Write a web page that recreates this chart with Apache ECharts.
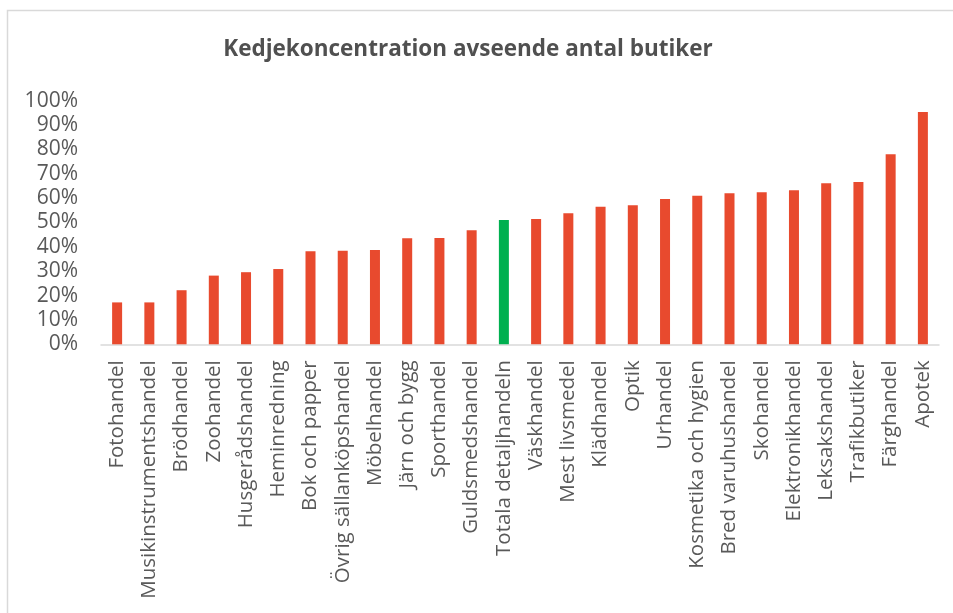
<!DOCTYPE html>
<html>
<head>
<meta charset="utf-8">
<script src="https://cdn.jsdelivr.net/npm/echarts@6/dist/echarts.min.js"></script>
<style>
  html, body {margin: 0; padding: 0; background: #fff;}
  #chart {width: 953px; height: 613px;}
</style>
</head>
<body>
<div id="chart"></div>
<script>
const categories = [
  'Fotohandel', 'Musikinstrumentshandel', 'Brödhandel', 'Zoohandel', 'Husgerådshandel',
  'Heminredning', 'Bok och papper', 'Övrig sällanköpshandel', 'Möbelhandel', 'Järn och bygg',
  'Sporthandel', 'Guldsmedshandel', 'Totala detaljhandeln', 'Väskhandel', 'Mest livsmedel',
  'Klädhandel', 'Optik', 'Urhandel', 'Kosmetika och hygien', 'Bred varuhushandel',
  'Skohandel', 'Elektronikhandel', 'Leksakshandel', 'Trafikbutiker', 'Färghandel', 'Apotek'
]
const shares = [
  17.2, 17.2, 22.2, 28.2, 29.6, 30.9, 38.2, 38.4, 38.7, 43.5,
  43.6, 46.8, 51.0, 51.4, 53.8, 56.5, 57.1, 59.6, 61.0, 62.0,
  62.4, 63.2, 66.1, 66.6, 78.0, 95.4
]
const highlight = 'Totala detaljhandeln'

const barColor = '#e84a2e'
const totalColor = '#00b050'
const textColor = '#595959'
const font = '"Open Sans", sans-serif'

const chart = echarts.init(document.getElementById('chart'))

chart.setOption({
  backgroundColor: '#fff',
  animation: false,
  graphic: [{
    type: 'rect',
    shape: {x: 7.5, y: 10.5, width: 1000, height: 700},
    style: {fill: 'none', stroke: '#d9d9d9', lineWidth: 1.5},
    silent: true
  }],
  title: {
    text: 'Kedjekoncentration avseende antal butiker',
    left: 463,
    textAlign: 'center',
    top: 33,
    textStyle: {color: '#505050', fontSize: 22.5, fontWeight: 'bold', fontFamily: font}
  },
  grid: {left: 101, right: 14, top: 100.7, bottom: 268.7, containLabel: false},
  xAxis: {
    type: 'category',
    data: categories,
    axisLine: {lineStyle: {color: '#d9d9d9', width: 1.5}},
    axisTick: {show: false},
    axisLabel: {
      rotate: 90,
      interval: 0,
      margin: 16,
      color: textColor,
      fontSize: 20.5,
      fontFamily: font
    }
  },
  yAxis: {
    type: 'value',
    min: 0,
    max: 100,
    interval: 10,
    splitLine: {show: false},
    axisLine: {show: false},
    axisTick: {show: false},
    axisLabel: {
      margin: 23,
      color: textColor,
      fontSize: 21,
      fontFamily: font,
      formatter: v => v + '%'
    }
  },
  series: [{
    type: 'bar',
    data: shares.map((v, i) => ({
      value: v,
      itemStyle: {color: categories[i] === highlight ? totalColor : barColor}
    })),
    barWidth: 10
  }]
})
</script>
</body>
</html>
